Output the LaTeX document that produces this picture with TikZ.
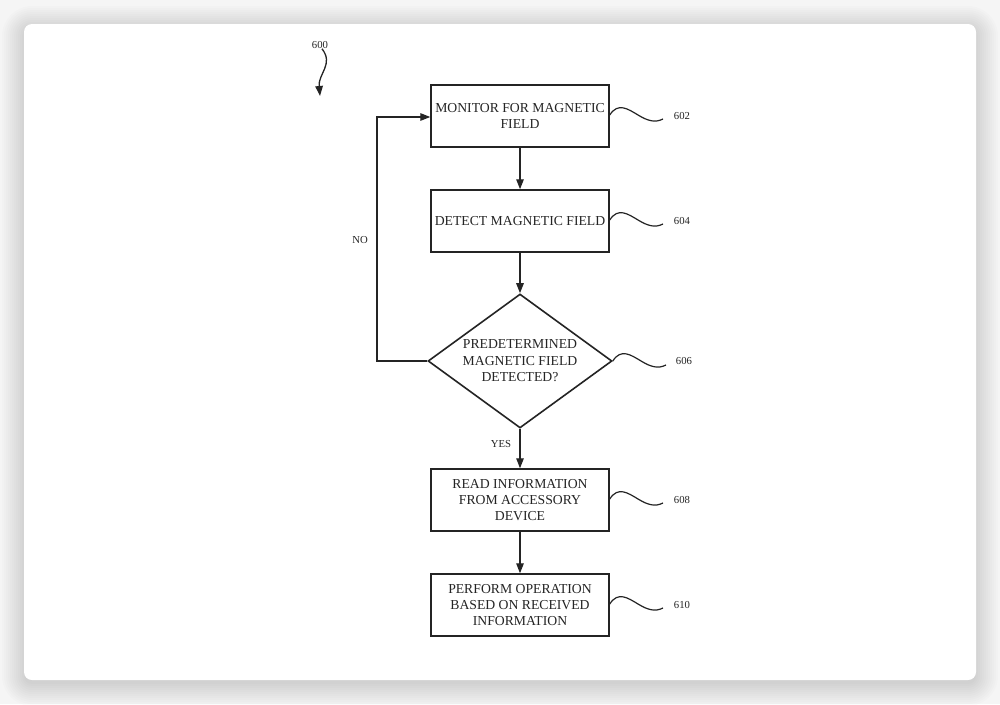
\documentclass[tikz,border=0pt]{standalone}
\usepackage{fontspec}
\setmainfont{Liberation Serif}
\usetikzlibrary{arrows.meta,shapes.geometric}
\definecolor{ink}{HTML}{242424}
\definecolor{bgout}{HTML}{F5F5F5}
\tikzset{
  stepbox/.style={draw=ink, line width=1.5pt, rectangle, minimum width=178pt, minimum height=62pt, inner sep=2pt, align=center, text=ink, font=\fontsize{13.7}{16.2}\selectfont},
  decide/.style={draw=ink, line width=1.6pt, diamond, minimum width=184pt, minimum height=134pt, inner sep=0pt},
  dtext/.style={align=center, text=ink, font=\fontsize{13.7}{16.4}\selectfont},
  flow/.style={draw=ink, line width=1.4pt, -{Triangle[length=10pt,width=7.5pt]}},
  lead/.style={draw=ink, line width=1.2pt},
  reflab/.style={text=ink, font=\fontsize{10.7}{12}\selectfont, inner sep=0pt},
}
\begin{document}
\begin{tikzpicture}[x=1pt,y=-1pt]
\useasboundingbox (0,0) rectangle (1000,704);
\fill[bgout] (0,0) rectangle (1000,704);
% card shadow
\foreach \s in {22,20,...,0}{
  \fill[black, opacity=0.012, rounded corners=8+\s] (24-\s,24-\s+4) rectangle (976+\s,680+\s+4);
}
\fill[white, rounded corners=8pt] (24,24) rectangle (976,680);

% nodes
\node[stepbox] (b602) at (520,116) {MONITOR FOR MAGNETIC\\FIELD};
\node[stepbox] (b604) at (520,221) {DETECT MAGNETIC FIELD};
\node[decide] (d606) at (520,361) {};
\node[dtext] (t606) at (d606.center) {PREDETERMINED\\MAGNETIC FIELD\\DETECTED?};
\node[stepbox] (b608) at (520,500) {READ INFORMATION\\FROM ACCESSORY\\DEVICE};
\node[stepbox] (b610) at (520,605) {PERFORM OPERATION\\BASED ON RECEIVED\\INFORMATION};

% connectors
\draw[flow] (b602) -- (b604);
\draw[flow] (b604) -- (d606.north);
\draw[flow] (d606.south) -- (b608);
\draw[flow] (b608) -- (b610);
\coordinate (nl) at (377,361);
\coordinate (nt) at (377,117);
\draw[flow] (d606.west) -- (nl) -- (nt) -- (b602.west |- nt);

\node[reflab] (no) at (360,240) {NO};
\node[reflab] (yes) at (501,444) {YES};

% reference labels
\node[reflab] (r602) at (682,116) {602};
\node[reflab] (r604) at (682,221) {604};
\node[reflab] (r606) at (684,361) {606};
\node[reflab] (r608) at (682,500) {608};
\node[reflab] (r610) at (682,605) {610};

\draw[lead] (b602.east |- 0,115) .. controls (618,102) and (628,109) .. (638,115) .. controls (648,121) and (655,123) .. (663,119);
\draw[lead] (b604.east |- 0,220) .. controls (618,207) and (628,214) .. (638,220) .. controls (648,226) and (655,228) .. (663,224);
\draw[lead] (d606.east) .. controls (621,348) and (631,355) .. (641,361) .. controls (651,367) and (658,369) .. (666,365);
\draw[lead] (b608.east |- 0,499) .. controls (618,486) and (628,493) .. (638,499) .. controls (648,505) and (655,507) .. (663,503);
\draw[lead] (b610.east |- 0,604) .. controls (618,591) and (628,598) .. (638,604) .. controls (648,610) and (655,612) .. (663,608);

% figure number
\node[reflab] (r600) at (320,45) {600};
\coordinate (a600) at (320,96);
\draw[lead, line width=1.3pt, -{Triangle[length=10pt,width=7.5pt]}] (r600.south -| 322,0) .. controls (334,64) and (318,74) .. (a600);
\end{tikzpicture}
\end{document}
